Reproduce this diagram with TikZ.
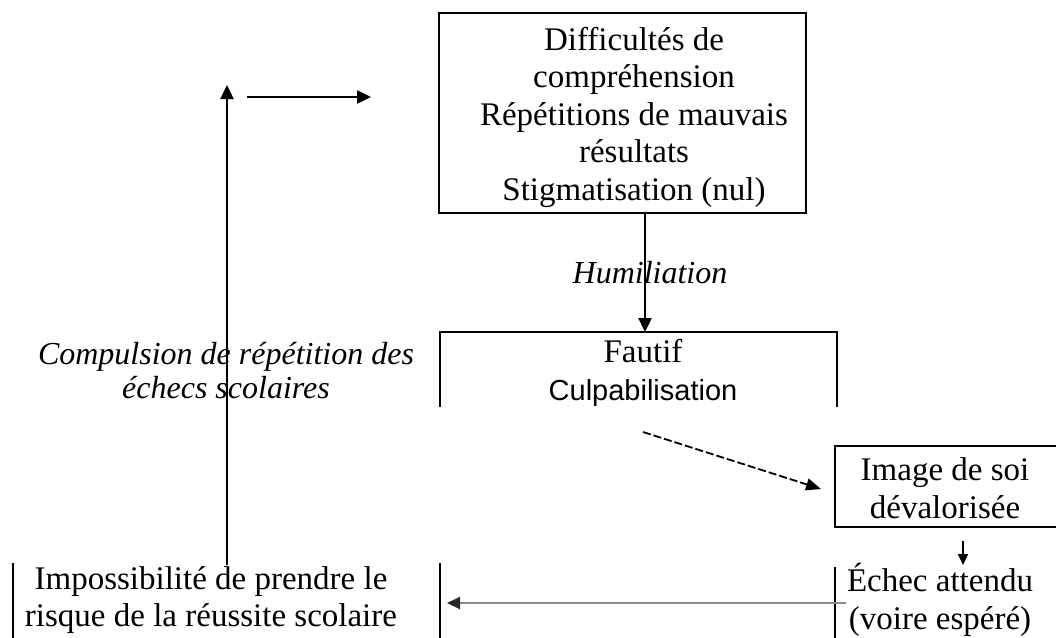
\documentclass[tikz,border=0pt]{standalone}
\usepackage{fontspec}
\setmainfont{Liberation Serif}
\newfontfamily\sansf{Liberation Sans}
\usetikzlibrary{arrows.meta}
\begin{document}
\begin{tikzpicture}[x=1pt,y=-1pt,
  boxline/.style={line width=2.4pt},
  txt/.style={align=center,inner sep=0pt,font=\fontsize{33}{37.5}\selectfont},
  itxt/.style={align=center,inner sep=0pt,font=\fontsize{32}{34}\selectfont\itshape},
  arr/.style={line width=2.4pt,-{Triangle[length=14pt,width=13pt]}},
  smallarr/.style={line width=2pt,-{Triangle[length=11pt,width=10pt]}},
  dasharr/.style={line width=1.8pt,dash pattern=on 8pt off 3pt,-{Triangle[length=15pt,width=12pt]}},
  greyarr/.style={line width=2pt,draw=black!45,-{Triangle[length=13pt,width=12pt,color=black!85]}}]
\useasboundingbox (0,0) rectangle (1056,637);

% top box
\node[draw,boxline,minimum width=367pt,minimum height=200pt,inner sep=0pt] (diff) at (622.5,113) {};
\node[txt] (difftxt) at (634,117) {Difficultés de\\compréhension\\Répétitions de mauvais\\résultats\\Stigmatisation (nul)};

% label on the first arrow
\node[itxt] (humil) at (650,273) {Humiliation};

% box "Fautif", open at the bottom
\draw[boxline] (440,407) |- (837,332) -- (837,407);
\node[txt] (faut) at (643,373) {Fautif\\{\sansf\fontsize{29}{36}\selectfont Culpabilisation}};
\coordinate (fautTop) at (645,332);

% label of the loop
\node[itxt] (comp) at (226,371) {Compulsion de répétition des\\échecs scolaires};

% box "Image de soi"
\node[draw,boxline,minimum width=226pt,minimum height=81pt,inner sep=0pt] (img) at (948,486.5) {};
\node[txt] (imgtxt) at (945,488) {Image de soi\\dévalorisée};

% bottom right, open box
\draw[boxline] (835,567) -- (835,645);
\node[txt] (echec) at (940,600) {Échec attendu\\(voire espéré)};
\coordinate (echecTop) at (963,565);
\coordinate (echecLeft) at (846,603);

% bottom left, open box
\draw[boxline] (13,563) -- (13,645);
\draw[boxline] (440,563) -- (440,645);
\node[txt] (imposs) at (211,600) {Impossibilité de prendre le\\risque de la réussite scolaire};
\coordinate (impossTop) at (227,565);
\coordinate (impossRight) at (447,603);

% loop arrows
\coordinate (loopTop) at (227,85);
\coordinate (loopStart) at (247,97);
\coordinate (loopEnd) at (371,97);
\coordinate (dashStart) at (643,432);
\coordinate (dashEnd) at (821,489);

% connectors
\draw[arr] (fautTop |- diff.south) -- (fautTop);
\draw[dasharr] (dashStart) -- (dashEnd);
\draw[smallarr,shorten <=13pt] (echecTop |- img.south) -- (echecTop);
\draw[greyarr] (echecLeft) -- (impossRight);
\draw[arr] (impossTop) -- (loopTop);
\draw[arr] (loopStart) -- (loopEnd);
\end{tikzpicture}
\end{document}
